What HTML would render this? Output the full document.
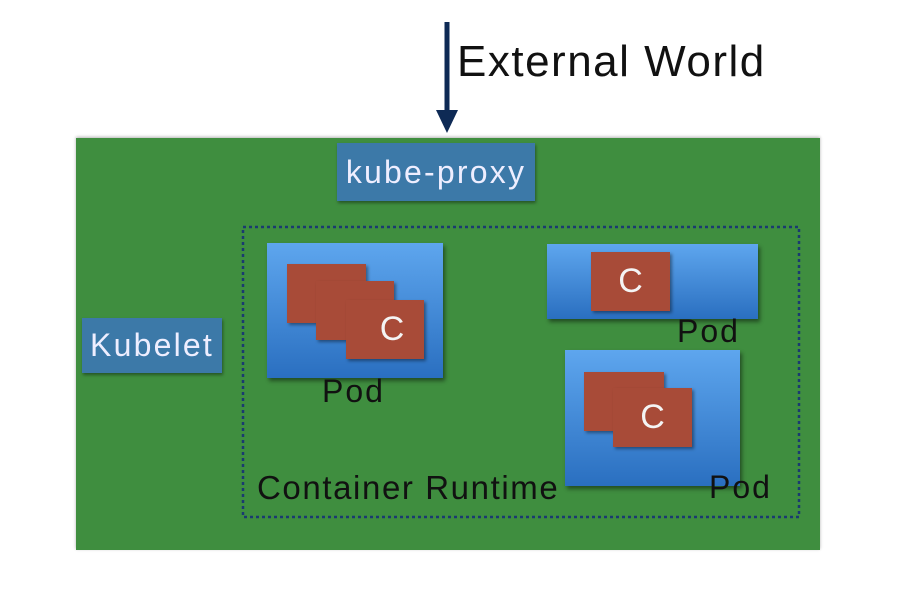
<!DOCTYPE html>
<html><head><meta charset="utf-8"><style>
body{margin:0;width:898px;height:600px;background:#fff;position:relative;overflow:hidden;font-family:"Liberation Sans",sans-serif;}
div{position:absolute;box-sizing:border-box}
.t{white-space:nowrap;line-height:1}
.pod{background:linear-gradient(#5ea6ee,#2a6fc0);box-shadow:2px 3px 4px rgba(0,0,0,.45)}
.c{background:#a84b38;box-shadow:2px 2px 3px rgba(0,0,0,.4);color:#f4f4f4;font-size:34px;display:flex;align-items:center;justify-content:center}
.lab{background:#3c79a8;color:#eef;font-size:32px;letter-spacing:2.2px;display:flex;align-items:center;justify-content:center;box-shadow:1px 2px 3px rgba(0,0,0,.4)}
.p{font-size:32px;letter-spacing:2px;color:#111}
</style></head><body>
<div style="left:76px;top:138px;width:744px;height:412px;background:#3f8e3f;box-shadow:0 -1px 3px rgba(0,0,0,.3)"></div>
<svg style="position:absolute;left:0;top:0" width="898" height="600">
<line x1="447" y1="22" x2="447" y2="112" stroke="#0e2a55" stroke-width="5"/>
<polygon points="436,110 458,110 447,133" fill="#0e2a55"/>
<rect x="243" y="227" width="556" height="290" fill="none" stroke="#1a3a70" stroke-width="2.5" stroke-dasharray="3,3"/>
</svg>
<div class="t" style="left:457px;top:40px;font-size:44px;letter-spacing:1.5px;color:#111">External World</div>
<div class="lab" style="left:337px;top:143px;width:198px;height:58px">kube-proxy</div>
<div class="lab" style="left:82px;top:318px;width:140px;height:55px">Kubelet</div>
<div class="pod" style="left:267px;top:243px;width:176px;height:135px"></div>
<div class="c" style="left:287px;top:264px;width:79px;height:59px"></div>
<div class="c" style="left:316px;top:281px;width:78px;height:59px"></div>
<div class="c" style="left:346px;top:300px;width:78px;height:59px;padding-left:14px">C</div>
<div class="t p" style="left:322px;top:375px">Pod</div>
<div class="pod" style="left:547px;top:244px;width:211px;height:75px"></div>
<div class="c" style="left:591px;top:252px;width:79px;height:59px">C</div>
<div class="t p" style="left:677px;top:315px">Pod</div>
<div class="pod" style="left:565px;top:350px;width:175px;height:136px"></div>
<div class="c" style="left:584px;top:372px;width:80px;height:59px"></div>
<div class="c" style="left:613px;top:388px;width:79px;height:59px">C</div>
<div class="t p" style="left:709px;top:471px">Pod</div>
<div class="t" style="left:257px;top:471px;font-size:33px;letter-spacing:1.6px;color:#111">Container Runtime</div>
</body></html>
